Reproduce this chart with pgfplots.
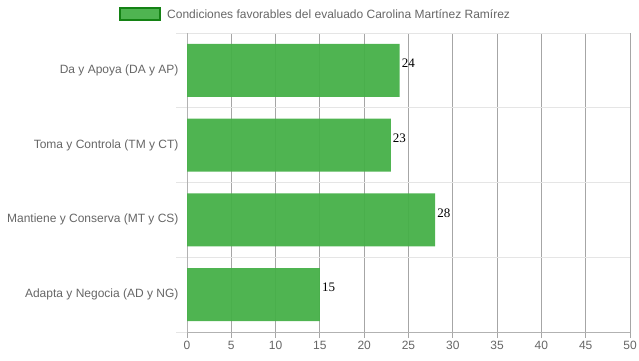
\documentclass[border=0pt]{standalone}
\usepackage{fontspec}
\setmainfont{Liberation Sans}
\newfontfamily\numfont{Liberation Serif}
\usepackage{pgfplots}
\pgfplotsset{compat=1.18}
\definecolor{txt}{RGB}{102,102,102}
\definecolor{barg}{RGB}{70,176,72}
\definecolor{bord}{RGB}{20,130,20}
\begin{document}
\begin{tikzpicture}
\useasboundingbox (0,0) rectangle (639pt,360pt);
\begin{axis}[
  at={(187pt,28pt)}, anchor=south west, scale only axis,
  width=443pt, height=299pt,
  xbar, bar width=53pt,
  xmin=0, xmax=50, ymin=-0.5, ymax=3.5,
  xtick={0,5,...,50},
  ytick={0,1,2,3},
  yticklabels={Adapta y Negocia (AD y NG),Mantiene y Conserva (MT y CS),Toma y Controla (TM y CT),Da y Apoya (DA y AP)},
  minor ytick={-0.5,0.5,1.5,2.5,3.5},
  xmajorgrids=true, yminorgrids=true, ymajorgrids=false,
  major grid style={draw=black!35, line width=1pt},
  minor grid style={draw=black!10, line width=1pt},
  axis x line*=bottom, axis y line*=left,
  axis line style={draw=black!30, line width=1pt},
  tick align=outside,
  major tick length=6pt, minor tick length=11pt,
  every major y tick/.style={draw=none},
  every minor y tick/.style={draw=black!10, line width=1pt},
  every major x tick/.style={draw=black!35, line width=1pt},
  tick label style={font=\fontsize{12}{14}\selectfont, text=txt},
  /pgf/number format/assume math mode=true,
  yticklabel style={xshift=1pt},
  nodes near coords,
  every node near coord/.append style={font=\numfont\fontsize{13}{15}\selectfont, text=black, anchor=west, inner sep=2pt, yshift=7pt},
  legend style={at={(-0.1535,1.062)}, anchor=west, draw=none, fill=none, inner sep=0pt,
    nodes={inner sep=0pt, text=txt, font=\fontsize{12}{14}\selectfont}},
  legend image code/.code={\draw[fill=barg, draw=bord, line width=2pt] (0pt,-6pt) rectangle (40pt,6pt); \path (47pt,0pt);},
]
\addplot[fill=barg, fill opacity=0.95, draw=none, text opacity=1] coordinates {(15,0) (28,1) (23,2) (24,3)};
\addlegendentry{Condiciones favorables del evaluado Carolina Martínez Ramírez}
\end{axis}
\end{tikzpicture}
\end{document}
